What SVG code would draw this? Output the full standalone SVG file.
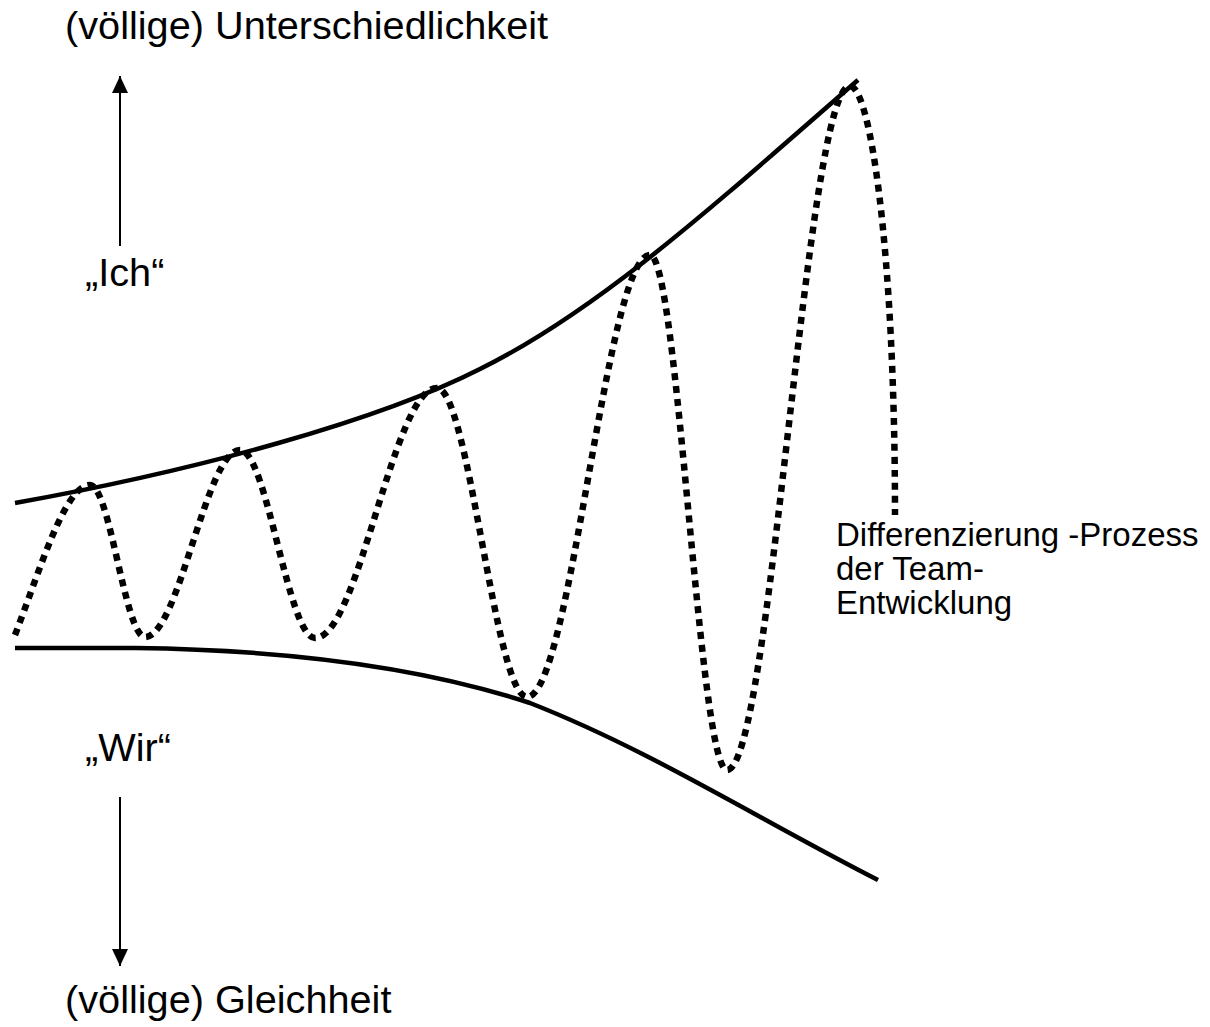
<svg xmlns="http://www.w3.org/2000/svg" width="1210" height="1027" viewBox="0 0 1210 1027">
<defs>
<style>
.t{font-family:"Liberation Sans",Arial,sans-serif;fill:#000}
.big{font-size:39.7px}
.small{font-size:33px}
.bound{fill:none;stroke:#000;stroke-width:4.5}
.wave{fill:none;stroke:#000;stroke-width:6.5;stroke-dasharray:7 6}
.ax{fill:none;stroke:#000;stroke-width:2}
</style>
<marker id="ah" viewBox="0 0 10 10" refX="10" refY="5" markerWidth="17" markerHeight="16" orient="auto" markerUnits="userSpaceOnUse" preserveAspectRatio="none">
<path d="M0,0 L10,5 L0,10 Z" fill="#000"/>
</marker>
</defs>
<rect width="1210" height="1027" fill="#fff"/>
<g id="labels">
<text id="top-label" class="t big" x="65" y="39">(völlige) Unterschiedlichkeit</text>
<text id="ich" class="t big" x="85" y="286">„Ich“</text>
<text id="wir" class="t big" x="85" y="761">„Wir“</text>
<text id="bottom-label" class="t big" x="65" y="1013">(völlige) Gleichheit</text>
<text id="process" class="t small" x="836" y="546"><tspan x="836" y="546">Differenzierung -Prozess</tspan><tspan x="836" y="580">der Team-</tspan><tspan x="836" y="614">Entwicklung</tspan></text>
</g>
<g id="curves">
<path id="upper-bound" class="bound" d="M15,503 C200,470 380,420 480,369 C600,310 720,200 858,80"/>
<path id="lower-bound" class="bound" d="M15,648 L135,648 C300,650 430,670 530,703 C650,750 760,820 878,880"/>
<path id="wave" class="wave" d="M15,635 C40,570 65,485 90,485 C110,485 125,637 145,637 C179,637 206,450 240,450 C267,450 288,638 315,638 C359,638 393,388 437,388 C469,388 495,697 527,697 C571,697 606,255 650,255 C678,255 699,770 727,770 C771,770 806,86 850,86 C870,86 895,250 895,515"/>
</g>
<g id="connectors">
<line class="ax" x1="120" y1="246" x2="120" y2="76" marker-end="url(#ah)"/>
<line class="ax" x1="120" y1="797" x2="120" y2="966" marker-end="url(#ah)"/>
</g>
</svg>
